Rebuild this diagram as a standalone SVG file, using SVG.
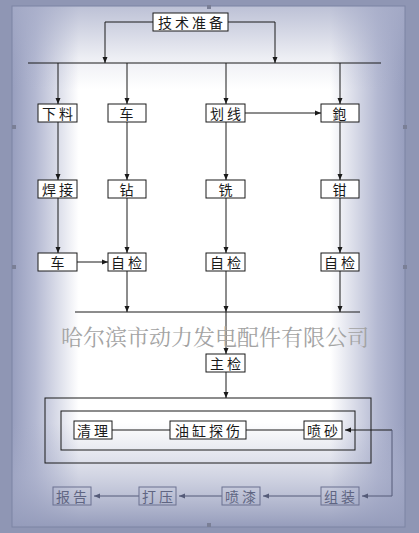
<svg xmlns="http://www.w3.org/2000/svg" width="419" height="533" viewBox="0 0 419 533">
<defs>
<linearGradient id="hg" x1="0" y1="0" x2="1" y2="0">
<stop offset="0" stop-color="#979ebe"/>
<stop offset="0.06" stop-color="#b4b9d2"/>
<stop offset="0.17" stop-color="#ffffff"/>
<stop offset="0.81" stop-color="#ffffff"/>
<stop offset="0.93" stop-color="#b4b9d2"/>
<stop offset="1" stop-color="#979ebe"/>
</linearGradient>
<linearGradient id="vg" x1="0" y1="0" x2="0" y2="1">
<stop offset="0" stop-color="#a6acc8" stop-opacity="0.75"/>
<stop offset="0.1" stop-color="#a6acc8" stop-opacity="0.2"/>
<stop offset="0.16" stop-color="#a6acc8" stop-opacity="0"/>
<stop offset="0.8" stop-color="#a6acc8" stop-opacity="0"/>
<stop offset="0.9" stop-color="#a6acc8" stop-opacity="0.5"/>
<stop offset="1" stop-color="#959cbb" stop-opacity="1"/>
</linearGradient>
<marker id="ah" markerWidth="7" markerHeight="6" refX="6" refY="3" orient="auto" markerUnits="userSpaceOnUse">
<path d="M0,0.5 L6,3 L0,5.5 Z" fill="#1a1a1a"/>
</marker>
<marker id="ahg" markerWidth="7" markerHeight="6" refX="6" refY="3" orient="auto" markerUnits="userSpaceOnUse">
<path d="M0,0.5 L6,3 L0,5.5 Z" fill="#555b78"/>
</marker>
</defs>
<style>
.box{fill:#ffffff;stroke:#1a1a1a;stroke-width:1}
.gbox{fill:none;stroke:#6b7190;stroke-width:1}
.t{font-family:"Noto Sans CJK SC","Noto Sans",sans-serif;font-size:14px;fill:#1a1a1a;text-anchor:middle;dominant-baseline:central;letter-spacing:3px}
.gt{font-family:"Noto Sans CJK SC","Noto Sans",sans-serif;font-size:14px;fill:#5f6582;text-anchor:middle;dominant-baseline:central;letter-spacing:3px}
.c{fill:none;stroke:#1a1a1a;stroke-width:1}
.ca{fill:none;stroke:#1a1a1a;stroke-width:1;marker-end:url(#ah)}
.cg{fill:none;stroke:#555b78;stroke-width:1;marker-end:url(#ahg)}
.wm{font-family:"Noto Serif CJK SC","Noto Sans CJK SC",serif;font-size:22px;fill:#a3a3a3;text-anchor:middle;dominant-baseline:central}
</style>
<rect x="0" y="0" width="419" height="533" fill="#8f96b4"/>
<rect x="12" y="6" width="393" height="521" fill="url(#hg)"/>
<rect x="12" y="6" width="393" height="521" fill="url(#vg)" stroke="#7d84a3" stroke-width="1"/>
<g fill="#7a7f96">
<rect x="207" y="5" width="4" height="4"/>
<rect x="12" y="125" width="4" height="4"/>
<rect x="403" y="125" width="4" height="4"/>
<rect x="12" y="265" width="4" height="4"/>
<rect x="403" y="265" width="4" height="4"/>
<rect x="207" y="523" width="4" height="4"/>
</g>
<g id="connectors">
<path class="ca" d="M153,22 H105 V63"/>
<path class="ca" d="M228,22 H275 V63"/>
<path class="c" d="M28,63 H381"/>
<path class="ca" d="M58,63 V104"/>
<path class="ca" d="M127,63 V104"/>
<path class="ca" d="M226,63 V104"/>
<path class="ca" d="M340,63 V104"/>
<path class="ca" d="M245,113 H321"/>
<path class="ca" d="M58,122 V180"/>
<path class="ca" d="M127,122 V180"/>
<path class="ca" d="M226,122 V180"/>
<path class="ca" d="M340,122 V180"/>
<path class="ca" d="M58,198 V253"/>
<path class="ca" d="M127,198 V253"/>
<path class="ca" d="M226,198 V253"/>
<path class="ca" d="M340,198 V253"/>
<path class="ca" d="M77,262 H108"/>
<path class="ca" d="M127,271 V312"/>
<path class="ca" d="M226,271 V312"/>
<path class="ca" d="M340,271 V312"/>
<path class="c" d="M75,312 H360"/>
<path class="ca" d="M226,312 V354"/>
<path class="ca" d="M226,372 V398"/>
<path class="c" d="M112,430 H170"/>
<path class="c" d="M246,430 H304"/>
<path class="ca" d="M392,430 H345"/>
<path class="cg" d="M392,430 V496 H362"/>
<path class="cg" d="M321,496 H263"/>
<path class="cg" d="M222,496 H179"/>
<path class="cg" d="M139,496 H94"/>
</g>
<text class="wm" x="215" y="335">哈尔滨市动力发电配件有限公司</text>
<g id="n-prep"><rect class="box" x="153" y="13" width="75" height="18"/><text class="t" x="192" y="22">技术准备</text></g>
<g id="n-xialiao"><rect class="box" x="38" y="104" width="39" height="18"/><text class="t" x="59" y="113">下料</text></g>
<g id="n-che1"><rect class="box" x="108" y="104" width="38" height="18"/><text class="t" x="128" y="113">车</text></g>
<g id="n-huaxian"><rect class="box" x="206" y="104" width="39" height="18"/><text class="t" x="227" y="113">划线</text></g>
<g id="n-bao"><rect class="box" x="321" y="104" width="38" height="18"/><text class="t" x="341" y="113">鉋</text></g>
<g id="n-hanjie"><rect class="box" x="38" y="180" width="39" height="18"/><text class="t" x="59" y="189">焊接</text></g>
<g id="n-zuan"><rect class="box" x="108" y="180" width="38" height="18"/><text class="t" x="128" y="189">钻</text></g>
<g id="n-xi"><rect class="box" x="206" y="180" width="39" height="18"/><text class="t" x="227" y="189">铣</text></g>
<g id="n-qian"><rect class="box" x="321" y="180" width="38" height="18"/><text class="t" x="341" y="189">钳</text></g>
<g id="n-che2"><rect class="box" x="38" y="253" width="39" height="18"/><text class="t" x="59" y="262">车</text></g>
<g id="n-zijian1"><rect class="box" x="108" y="253" width="38" height="18"/><text class="t" x="128" y="262">自检</text></g>
<g id="n-zijian2"><rect class="box" x="206" y="253" width="39" height="18"/><text class="t" x="227" y="262">自检</text></g>
<g id="n-zijian3"><rect class="box" x="321" y="253" width="38" height="18"/><text class="t" x="341" y="262">自检</text></g>
<g id="n-zhujian"><rect class="box" x="206" y="354" width="39" height="18"/><text class="t" x="227" y="363">主检</text></g>
<g id="n-outer"><rect x="45" y="398" width="326" height="65" fill="none" stroke="#1a1a1a" stroke-width="1"/></g>
<g id="n-inner"><rect x="61" y="411" width="294" height="39" fill="none" stroke="#1a1a1a" stroke-width="1"/></g>
<g id="n-qingli"><rect class="box" x="74" y="421" width="38" height="18"/><text class="t" x="94" y="430">清理</text></g>
<g id="n-tanshang"><rect class="box" x="170" y="421" width="76" height="18"/><text class="t" x="209" y="430">油缸探伤</text></g>
<g id="n-pensha"><rect class="box" x="304" y="421" width="38" height="18"/><text class="t" x="324" y="430">喷砂</text></g>
<g id="n-baogao"><rect class="gbox" x="53" y="487" width="38" height="18"/><text class="gt" x="73" y="496">报告</text></g>
<g id="n-daya"><rect class="gbox" x="139" y="487" width="37" height="18"/><text class="gt" x="159" y="496">打压</text></g>
<g id="n-penqi"><rect class="gbox" x="222" y="487" width="38" height="18"/><text class="gt" x="242" y="496">喷漆</text></g>
<g id="n-zuzhuang"><rect class="gbox" x="321" y="487" width="38" height="18"/><text class="gt" x="341" y="496">组装</text></g>
</svg>
